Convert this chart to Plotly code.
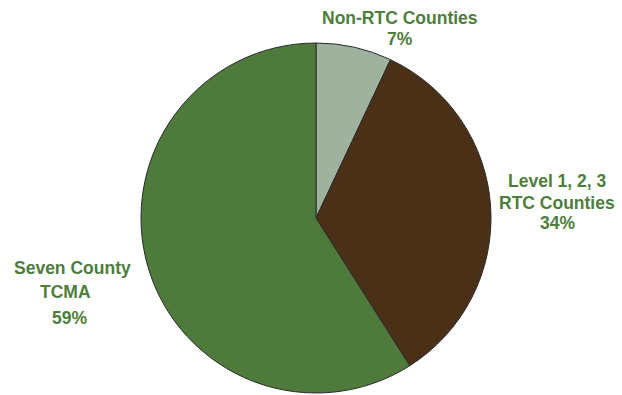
import plotly.graph_objects as go

# Share of total by county group
categories = ["Non-RTC Counties", "Level 1, 2, 3 RTC Counties", "Seven County TCMA"]
label_lines = [["Non-RTC Counties"], ["Level 1, 2, 3", "RTC Counties"], ["Seven County", "TCMA"]]
shares = [7, 34, 59]
colors = ["#9FB29E", "#4A3017", "#4E7A3B"]

W, H = 622, 395
cx, cy, r = 316, 218, 175

fig = go.Figure(go.Pie(
    labels=categories,
    values=shares,
    sort=False,
    direction="clockwise",
    rotation=0,
    marker=dict(colors=colors, line=dict(color="#2b2b2b", width=1)),
    textinfo="none",
    hoverinfo="label+percent",
    showlegend=False,
    domain=dict(x=[(cx - r) / W, (cx + r) / W],
                y=[(H - cy - r) / H, (H - cy + r) / H]),
))

# Per-line label anchors in pixels: (x, y, xanchor)
line_pos = [
    [(400, 18, "center"), (400, 39, "center")],
    [(557, 181, "center"), (557, 203, "center"), (557, 223, "center")],
    [(12, 268, "left"), (38, 292, "left"), (50, 318, "left")],
]
font = dict(family="Liberation Sans, Arial", size=17.5, color="#4E7E3C")
for lines, share, positions in zip(label_lines, shares, line_pos):
    texts = lines + [f"{share}%"]
    for txt, (px, py, xa) in zip(texts, positions):
        fig.add_annotation(
            x=px / W, y=1 - py / H, xref="paper", yref="paper",
            xanchor=xa, yanchor="middle",
            text=f"<b>{txt}</b>", showarrow=False, font=font,
        )

fig.update_layout(
    width=W, height=H,
    margin=dict(l=0, r=0, t=0, b=0),
    paper_bgcolor="white",
    plot_bgcolor="white",
)

fig.write_html("out.html")
